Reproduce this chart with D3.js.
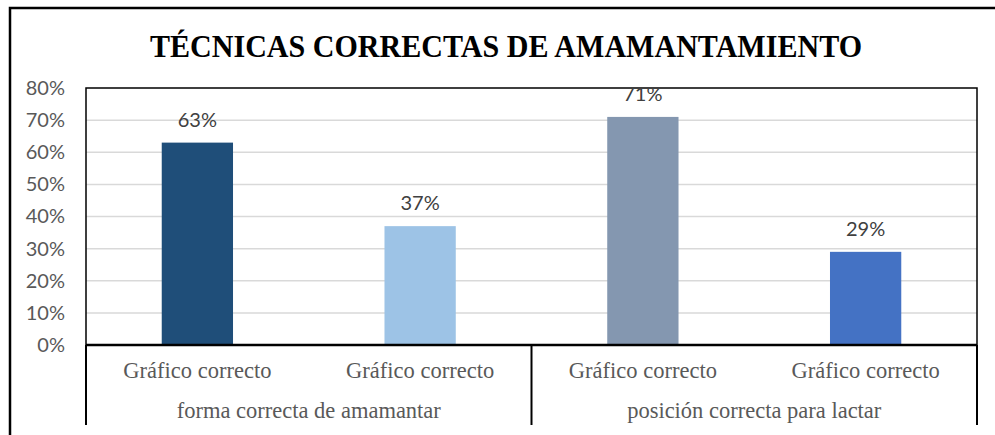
<!DOCTYPE html>
<html>
<head>
<meta charset="utf-8">
<script src="https://cdn.jsdelivr.net/npm/d3@7"></script>
<style>
  body { margin: 0; background: #fff; }
  svg { display: block; }
</style>
</head>
<body>
<div id="chart"></div>
<script>
// chart data
var groups = ["forma correcta de amamantar", "posición correcta para lactar"];
var barLabels = ["Gráfico correcto", "Gráfico correcto", "Gráfico correcto", "Gráfico correcto"];
var barGroup = [0, 0, 1, 1];
var values = [0.63, 0.37, 0.71, 0.29];
var barColors = ["#1F4E79", "#9DC3E6", "#8497B0", "#4472C4"];
var yTicks = [0, 0.1, 0.2, 0.3, 0.4, 0.5, 0.6, 0.7, 0.8];
var title = "TÉCNICAS CORRECTAS DE AMAMANTAMIENTO";

var svgWidth = 995;
var svgHeight = 435;

var margin = { top: 88, right: 18, bottom: 90, left: 86 };
var chartWidth = svgWidth - margin.left - margin.right;
var chartHeight = 257;

var svg = d3.select("#chart")
  .append("svg")
  .attr("width", svgWidth)
  .attr("height", svgHeight);

// outer frame (top + left only visible)
svg.append("path")
  .attr("d", "M10,436 L10,8 L996,8")
  .attr("fill", "none")
  .attr("stroke", "#000")
  .attr("stroke-width", 2.5);

svg.append("text")
  .attr("x", 506)
  .attr("y", 57)
  .attr("text-anchor", "middle")
  .attr("textLength", 712)
  .attr("lengthAdjust", "spacingAndGlyphs")
  .style("font-family", "'Liberation Serif', 'Times New Roman', serif")
  .style("font-weight", "bold")
  .style("font-size", "32px")
  .attr("fill", "#000")
  .text(title);

var chartGroup = svg.append("g")
  .attr("transform", `translate(${margin.left}, ${margin.top})`);

var xScale = d3.scaleBand()
  .domain(d3.range(values.length))
  .range([0, chartWidth])
  .paddingInner(0.68)
  .paddingOuter(0.34);

var yScale = d3.scaleLinear()
  .domain([0, 0.8])
  .range([chartHeight, 0]);

// gridlines
chartGroup.append("g")
  .selectAll("line")
  .data(yTicks.slice(1, -1))
  .enter()
  .append("line")
  .attr("x1", 0)
  .attr("x2", chartWidth)
  .attr("y1", d => yScale(d))
  .attr("y2", d => yScale(d))
  .attr("stroke", "#d9d9d9")
  .attr("stroke-width", 1.5);

// y axis labels
var leftAxis = d3.axisLeft(yScale)
  .tickValues(yTicks)
  .tickFormat(d3.format(".0%"))
  .tickSize(0)
  .tickPadding(21);

var yAxisG = chartGroup.append("g").call(leftAxis);
yAxisG.select(".domain").remove();
yAxisG.selectAll("text")
  .style("font-family", "Lato, 'Open Sans', sans-serif")
  .style("font-size", "20px")
  .attr("fill", "#595959");

// bars
chartGroup.selectAll("rect.bar")
  .data(values)
  .enter()
  .append("rect")
  .attr("class", "bar")
  .attr("x", (d, i) => xScale(i))
  .attr("y", d => yScale(d))
  .attr("width", xScale.bandwidth())
  .attr("height", d => chartHeight - yScale(d))
  .attr("fill", (d, i) => barColors[i]);

// plot border
chartGroup.append("rect")
  .attr("x", 0)
  .attr("y", 0)
  .attr("width", chartWidth)
  .attr("height", chartHeight)
  .attr("fill", "none")
  .attr("stroke", "#000")
  .attr("stroke-width", 1.5);

// data labels
chartGroup.selectAll("text.value")
  .data(values)
  .enter()
  .append("text")
  .attr("class", "value")
  .attr("x", (d, i) => xScale(i) + xScale.bandwidth() / 2)
  .attr("y", d => yScale(d) - 16)
  .attr("text-anchor", "middle")
  .style("font-family", "Lato, 'Open Sans', sans-serif")
  .style("font-size", "20px")
  .attr("fill", "#404040")
  .text(d => d3.format(".0%")(d));

// category axis (two levels)
var axisG = chartGroup.append("g")
  .attr("transform", `translate(0, ${chartHeight})`);

axisG.append("line")
  .attr("x1", 0)
  .attr("x2", chartWidth)
  .attr("stroke", "#000")
  .attr("stroke-width", 2.5);

var step = xScale.step();
var groupEdges = [0, step * 2, step * 4];
axisG.selectAll("line.divider")
  .data(groupEdges)
  .enter()
  .append("line")
  .attr("class", "divider")
  .attr("x1", d => Math.min(d, chartWidth))
  .attr("x2", d => Math.min(d, chartWidth))
  .attr("y1", 0)
  .attr("y2", 80)
  .attr("stroke", "#000")
  .attr("stroke-width", 2);

axisG.selectAll("text.cat")
  .data(barLabels)
  .enter()
  .append("text")
  .attr("class", "cat")
  .attr("x", (d, i) => xScale(i) + xScale.bandwidth() / 2)
  .attr("y", 33)
  .attr("text-anchor", "middle")
  .style("font-family", "'Liberation Serif', 'Times New Roman', serif")
  .style("font-size", "22.5px")
  .attr("fill", "#595959")
  .text(d => d);

axisG.selectAll("text.group")
  .data(groups)
  .enter()
  .append("text")
  .attr("class", "group")
  .attr("x", (d, g) => {
    var idx = barGroup.map((b, i) => b === g ? i : -1).filter(i => i >= 0);
    return (xScale(idx[0]) + xScale(idx[idx.length - 1]) + xScale.bandwidth()) / 2;
  })
  .attr("y", 73)
  .attr("text-anchor", "middle")
  .style("font-family", "'Liberation Serif', 'Times New Roman', serif")
  .style("font-size", "22.5px")
  .attr("fill", "#595959")
  .text(d => d);
</script>
</body>
</html>
